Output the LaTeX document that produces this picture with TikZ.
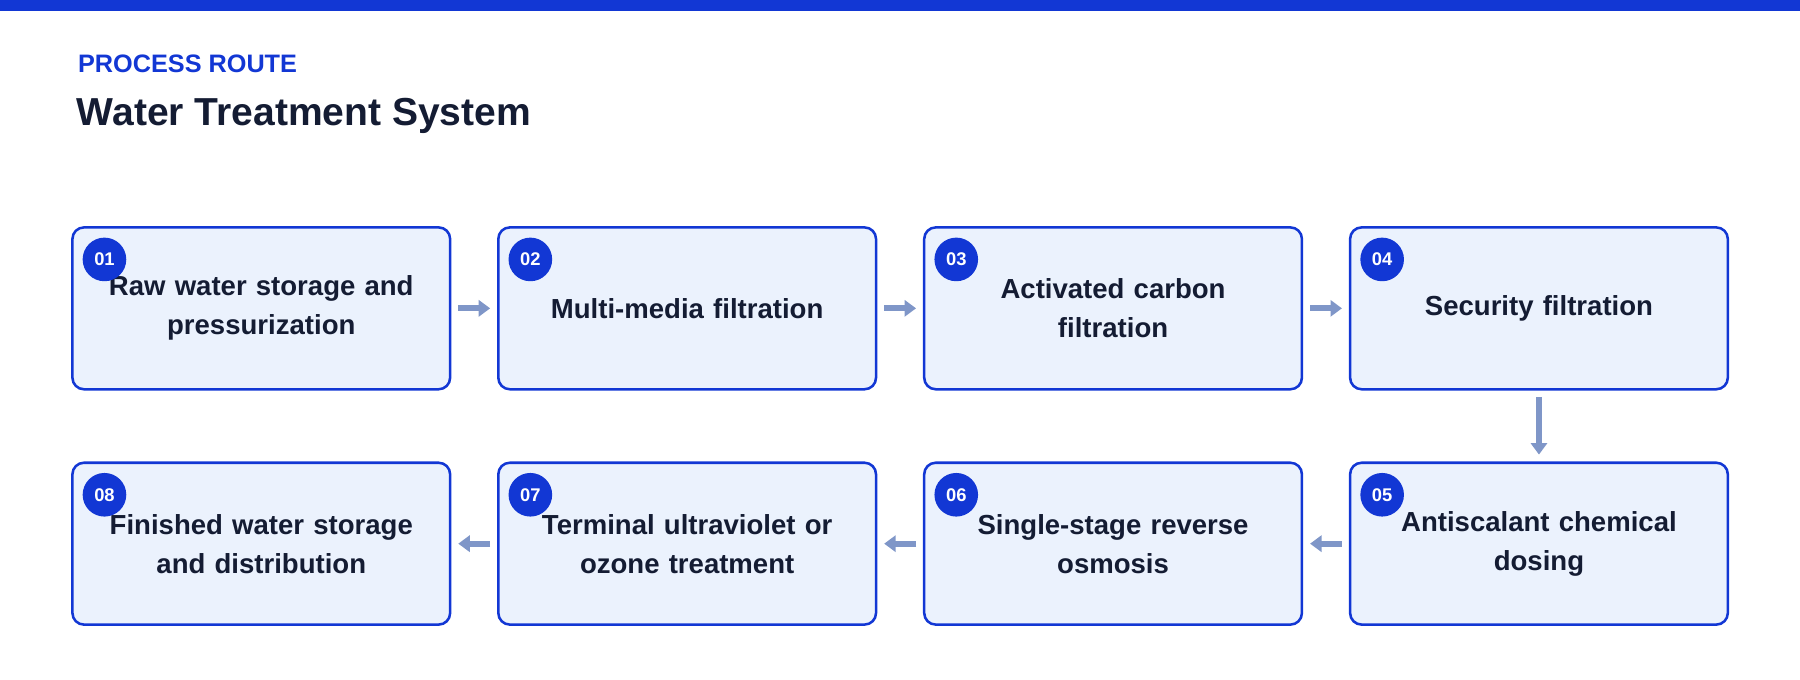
\documentclass[tikz,border=0pt]{standalone}
\usepackage{fontspec}
\setmainfont{Liberation Sans}
\usetikzlibrary{arrows.meta}
\definecolor{brand}{HTML}{1237D4}
\definecolor{boxfill}{HTML}{EBF2FD}
\definecolor{ink}{HTML}{141C33}
\definecolor{arr}{HTML}{7F96C8}
\begin{document}
\begin{tikzpicture}[x=0.5pt,y=-0.5pt,
  stagebox/.style={draw=brand,line width=1.1pt,fill=boxfill,rounded corners=5pt,minimum width=164.5pt,minimum height=70.5pt,inner sep=0pt,anchor=north west,text=ink,font=\bfseries\fontsize{12}{17}\selectfont,align=center,text width=150pt},
  badge/.style={circle,fill=brand,minimum size=19pt,inner sep=0pt,text=white,font=\bfseries\fontsize{8}{8}\selectfont},
  flow/.style={draw=arr,line width=2.5pt,-{Triangle[length=5pt,width=7pt]}}]
\useasboundingbox (0,0) rectangle (1568,592);
\fill[brand] (0,0) rectangle (1568,10);
\node[anchor=west,text=brand,font=\bfseries\fontsize{11}{13}\selectfont] (kicker) at (61,56) {PROCESS ROUTE};
\node[anchor=west,text=ink,font=\bfseries\fontsize{17}{20}\selectfont] (title) at (60,101) {Water Treatment System};
\node[stagebox] (s1) at (62,197) {Raw water storage and\\pressurization};
\node[stagebox] (s2) at (433,197) {Multi-media filtration};
\node[stagebox] (s3) at (804,197) {Activated carbon\\filtration};
\node[stagebox] (s4) at (1175,197) {Security filtration};
\node[stagebox] (s5) at (1175,402) {Antiscalant chemical\\dosing};
\node[stagebox] (s6) at (804,402) {Single-stage reverse\\osmosis};
\node[stagebox] (s7) at (433,402) {Terminal ultraviolet or\\ozone treatment};
\node[stagebox] (s8) at (62,402) {Finished water storage\\and distribution};
\foreach \n/\l in {s1/01,s2/02,s3/03,s4/04,s5/05,s6/06,s7/07,s8/08}
  \node[badge] (b\n) at ([xshift=14.5pt,yshift=-14.5pt]\n.north west) {\l};
\draw[flow] ([xshift=3pt]s1.east) -- ([xshift=-3pt]s2.west);
\draw[flow] ([xshift=3pt]s2.east) -- ([xshift=-3pt]s3.west);
\draw[flow] ([xshift=3pt]s3.east) -- ([xshift=-3pt]s4.west);
\draw[flow] ([yshift=-3pt]s4.south) -- ([yshift=3pt]s5.north);
\draw[flow] ([xshift=-3pt]s5.west) -- ([xshift=3pt]s6.east);
\draw[flow] ([xshift=-3pt]s6.west) -- ([xshift=3pt]s7.east);
\draw[flow] ([xshift=-3pt]s7.west) -- ([xshift=3pt]s8.east);
\end{tikzpicture}
\end{document}
